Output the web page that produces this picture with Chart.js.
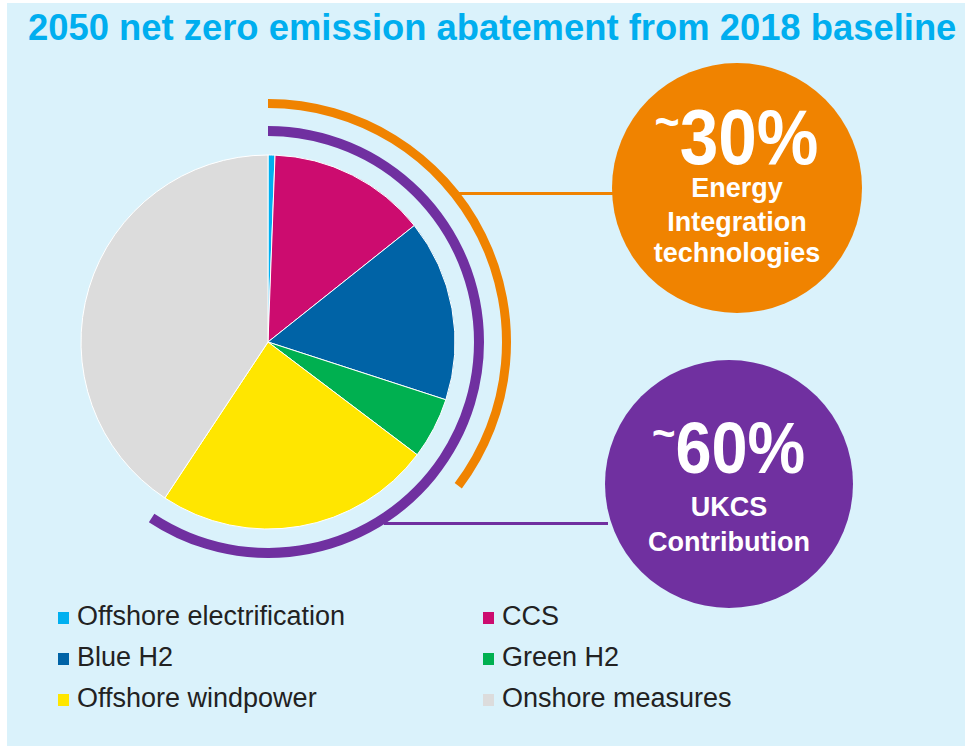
<!DOCTYPE html>
<html lang="en">
<head>
  <meta charset="UTF-8">
  <title>2050 net zero emission abatement</title>
  <script src="https://cdn.jsdelivr.net/npm/chart.js"></script>
  <style>
    body { margin: 0; width: 972px; height: 746px; background: #fff; position: relative; overflow: hidden;
           font-family: "Liberation Sans", Arial, sans-serif; }
    .panel { position: absolute; left: 7px; top: 3px; width: 958px; height: 743px; background: #daf2fb; }
    .title { position: absolute; left: 28px; top: 10px; font-size: 36.4px; line-height: 36px; font-weight: bold;
             color: #00aeef; white-space: nowrap; }
    .chart-box { position: absolute; left: 18px; top: 92px; width: 500px; height: 500px; }
    .link { position: absolute; height: 3px; }
    .bubble { position: absolute; border-radius: 50%; color: #fff; font-weight: bold; }
    .bubble div { position: absolute; left: 0; width: 100%; text-align: center; line-height: 1; white-space: nowrap; }
    .bubble div.big { transform: scaleX(0.9); transform-origin: 48% 50%; }
    .tilde { font-size: 0.62em; position: relative; top: -0.55em; }
    .legend { position: absolute; left: 58px; top: 601px; display: grid; grid-template-columns: 425px 300px;
              grid-auto-rows: 41px; font-size: 27px; color: #222; }
    .legend span.box { display: inline-block; width: 11px; height: 12px; margin-right: 8px; vertical-align: 1px; }
  </style>
</head>
<body>
  <div class="panel"></div>
  <div class="title">2050 net zero emission abatement from 2018 baseline</div>

  <div class="link" style="left:458px; top:192px; width:158px; background:#f08300;"></div>
  <div class="link" style="left:384px; top:522px; width:224px; background:#7030a0;"></div>

  <div class="chart-box"><canvas id="pie"></canvas></div>

  <!-- callouts -->
  <div class="bubble" style="left:612px; top:63px; width:250px; height:250px; background:#f08300;">
    <div class="big" style="top:36px; font-size:77px;"><span class="tilde">~</span>30%</div>
    <div style="top:112px; font-size:27px;">Energy</div>
    <div style="top:146px; font-size:27px;">Integration</div>
    <div style="top:177px; font-size:27px;">technologies</div>
  </div>
  <div class="bubble" style="left:605px; top:360px; width:248px; height:248px; background:#7030a0;">
    <div class="big" style="top:52px; font-size:72px;"><span class="tilde">~</span>60%</div>
    <div style="top:134px; font-size:27px;">UKCS</div>
    <div style="top:169px; font-size:27px;">Contribution</div>
  </div>

  <div class="legend" id="legend"></div>

  <script>
    const categories = ['Offshore electrification', 'CCS', 'Blue H2', 'Green H2', 'Offshore windpower', 'Onshore measures'];
    const shares = [0.6, 13.7, 15.7, 5.3, 24.0, 40.7];
    const sliceColors = ['#00b0f0', '#cc0c6f', '#0063a6', '#00b050', '#ffe600', '#dcdcdc'];

    // which slices each bracket arc spans
    const energyIntegration = ['Offshore electrification', 'CCS', 'Blue H2', 'Green H2'];
    const ukcsContribution = ['Offshore electrification', 'CCS', 'Blue H2', 'Green H2', 'Offshore windpower'];

    const groupShare = names => categories.reduce((s, c, i) => s + (names.includes(c) ? shares[i] : 0), 0);
    const ring = (names, color, weight) => {
      const v = groupShare(names);
      return { data: [v, 100 - v], backgroundColor: [color, 'rgba(0,0,0,0)'], borderWidth: 0, weight };
    };
    const gap = weight => ({ data: [1], backgroundColor: ['rgba(0,0,0,0)'], borderWidth: 0, weight });

    new Chart(document.getElementById('pie'), {
      type: 'doughnut',
      data: {
        labels: categories,
        datasets: [
          ring(energyIntegration, '#f08300', 9),
          gap(18),
          ring(ukcsContribution, '#7030a0', 10),
          gap(19),
          { data: shares, backgroundColor: sliceColors, borderColor: '#ffffff', borderWidth: 1, weight: 187 }
        ]
      },
      options: {
        responsive: true,
        maintainAspectRatio: false,
        animation: false,
        events: [],
        cutout: 0,
        radius: 243,
        plugins: { legend: { display: false }, tooltip: { enabled: false } }
      }
    });

    // legend, two columns
    const legend = document.getElementById('legend');
    categories.forEach((c, i) => {
      const item = document.createElement('div');
      item.innerHTML = `<span class="box" style="background:${sliceColors[i]}"></span>${c}`;
      legend.appendChild(item);
    });
  </script>
</body>
</html>
